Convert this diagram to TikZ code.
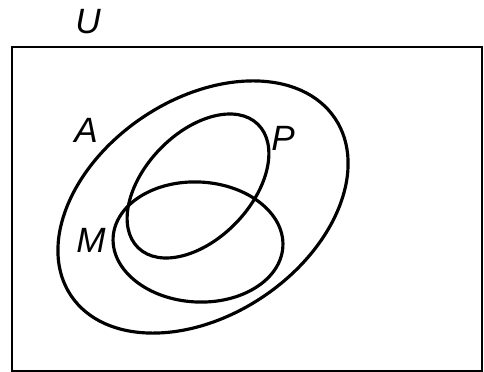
\documentclass[tikz,border=0pt]{standalone}
\usepackage{fontspec}
\setsansfont{Liberation Sans}
\usetikzlibrary{positioning}

\begin{document}
\begin{tikzpicture}[
  x=0.02cm,y=0.02cm,
  setline/.style={
    line width=1.8pt,
    draw=black
  },
  boxline/.style={
    line width=1.4pt,
    draw=black
  },
  setlabel/.style={
    font=\fontsize{20}{24}\sffamily\itshape\selectfont,
    text=black,
    inner sep=0pt
  }
]
\useasboundingbox (0,0) rectangle (484,372);

% -------------------------------------------------
% Universe
% -------------------------------------------------
\draw[boxline] (12,1) rectangle (482,325);
\node[setlabel] (lblU) at (88,350) {U};

% -------------------------------------------------
% Sets A, P, M
% -------------------------------------------------
\draw[setline, rotate around={33.9:(203,165)}] (203,165) ellipse (159 and 108);
\draw[setline, rotate around={46:(198,186)}] (198,186) ellipse (86 and 53);
\draw[setline, rotate around={-3:(198,130)}] (198,130) ellipse (85 and 60);

\node[setlabel] (lblA) at (86,242) {A};
\node[setlabel] (lblP) at (283,234) {P};
\node[setlabel] (lblM) at (91,132) {M};

\end{tikzpicture}
\end{document}
